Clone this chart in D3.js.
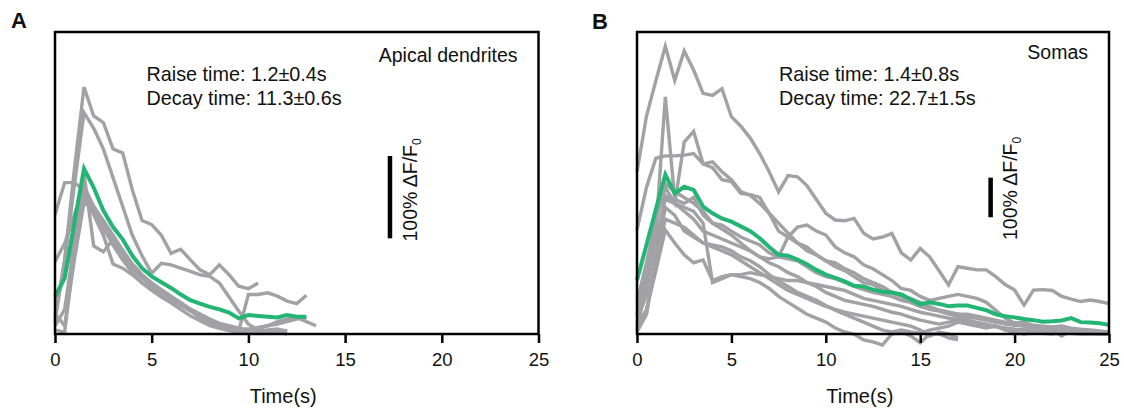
<!DOCTYPE html>
<html>
<head>
<meta charset="utf-8">
<script src="https://cdn.jsdelivr.net/npm/d3@7"></script>
<style>
  html, body { margin: 0; padding: 0; background: #fff; }
  svg { display: block; }
  text { font-family: "Liberation Sans", Arial, Helvetica, sans-serif; fill: #111; }
</style>
</head>
<body>
<svg id="chart" width="1124" height="414"></svg>
<script>
// ---------- data (ΔF/F0, sampled every 0.5 s from t = 0) ----------
const SAMPLE_INTERVAL = 0.5;
const xTicks = [0, 5, 10, 15, 20, 25];
const xLabel = "Time(s)";
const scaleBarLabel = "100% ΔF/F";
const scaleBarSub = "0";

// Panel A: apical dendrites
const panelATitle = "Apical dendrites";
const panelAStats = ["Raise time: 1.2±0.4s", "Decay time: 11.3±0.6s"];
const dendriteTrace1 = [0.2,0.9,2.0,3.0,2.65,2.57,2.25,2.2,1.75,1.38,1.33,1.2,0.98,1.03,0.9,0.78,0.72,0.84,0.72,0.58,0.55,0.62];
const dendriteTrace2 = [0.15,0.9,1.8,2.69,2.5,2.25,1.9,1.55,1.2,0.95,0.74,0.86,0.84,0.8,0.76,0.72,0.7,0.62,0.45,0.28,0.12,0.05,0.02,0.03,0.0];
const dendriteTrace3 = [1.45,1.84,1.84,1.75,1.5,1.28,1.1,0.95,0.8,0.7,0.6,0.52,0.44,0.36,0.3,0.24,0.18,0.12,0.08,0.04,0.48,0.48,0.5,0.46,0.4,0.37,0.47];
const dendriteTrace4 = [0.05,0.02,1.0,1.95,1.07,1.0,1.15,0.95,0.8,0.68,0.58,0.5,0.42,0.35,0.28,0.2,0.14,0.1,0.06,0.03,0.02,0.03,0.05,0.06,0.03];
const dendriteTrace5 = [0.88,1.1,1.45,1.8,1.55,1.35,1.15,0.98,0.85,0.72,0.62,0.53,0.45,0.38,0.3,0.24,0.18,0.13,0.1,0.07,0.05,0.07,0.1,0.15,0.18,0.2,0.15,0.1];
const dendriteTrace6 = [0.25,0.1,0.9,1.6,1.5,1.3,1.08,0.9,0.75,0.62,0.53,0.45,0.38,0.3,0.22,0.16,0.1,0.07,0.04,0.02,0.02,0.01,0.03,0.05,0.04];
const dendriteTrace7 = [0.4,0.7,1.2,1.65,1.45,1.2,0.85,0.8,0.72,0.62,0.55,0.48,0.42,0.36,0.3,0.22,0.16,0.1,0.07,0.05,0.06,0.08,0.1,0.12,0.15,0.18,0.2];
const dendriteTrace8 = [0.1,0.3,1.1,1.7,1.55,1.38,1.2,1.02,0.85,0.72,0.62,0.54,0.46,0.38,0.3,0.24,0.17,0.12,0.08,0.05,0.03,0.02,0.01,0.02,0.03];
const dendriteMean   = [0.455,0.68,1.35,2.01,1.78,1.5,1.3,1.15,0.95,0.8,0.7,0.63,0.56,0.48,0.41,0.37,0.33,0.3,0.26,0.19,0.23,0.22,0.21,0.2,0.23,0.21,0.21];

// Panel B: somas
const panelBTitle = "Somas";
const panelBStats = ["Raise time: 1.4±0.8s", "Decay time: 22.7±1.5s"];
const somaTrace1 = [4.1,5.5,6.4,7.27,6.41,7.15,6.67,6.08,6.03,6.2,5.49,5.25,4.95,4.56,4.1,3.59,4.0,3.97,3.75,3.4,3.05,2.88,2.86,2.92,2.55,2.4,2.45,2.54,2.05,1.87,2.16,1.95,1.6,1.24,1.7,1.66,1.62,1.62,1.45,1.25,1.11,0.73,1.11,1.12,1.1,0.95,0.88,0.82,0.86,0.82,0.77];
const somaTrace2 = [0.3,1.0,2.6,5.99,3.4,3.3,3.45,3.0,2.8,2.75,2.6,2.45,2.35,2.25,2.05,1.95,1.9,1.85,1.7,1.55,1.45,1.4,1.3,1.2,1.12,1.05,1.0,0.95,0.85,0.8,0.7,0.62,0.58,0.5,0.45,0.42,0.4,0.35,0.3,0.28,0.25,0.2,0.18,0.15,0.12,0.1,0.12,0.1,0.08,0.06,0.05];
const somaTrace3 = [0.8,1.8,2.9,3.7,3.3,4.85,5.12,4.3,4.35,4.1,3.9,3.6,3.5,3.3,3.05,2.8,2.55,2.3,2.2,2.0,1.85,1.7,1.6,1.45,1.3,1.25,1.1,1.05,0.95,0.8,0.7,0.65,0.6,0.55,0.5,0.45,0.4,0.35,0.3,0.25,0.22,0.2,0.18,0.15,0.12,0.1,0.1,0.08,0.06,0.04,0.03];
const somaTrace4 = [2.63,3.7,4.44,4.5,4.5,4.52,4.56,4.3,4.2,3.9,3.85,3.55,3.52,3.45,3.05,2.6,2.45,2.3,2.1,2.0,1.85,1.8,1.65,1.55,1.4,1.3,1.2,1.05,0.95,0.9,0.8,0.7,0.6,0.55,0.5,0.5,0.45,0.4,0.35,0.3,0.28,0.25,0.2,0.18,0.15,0.12,0.1,0.1,0.08,0.06,0.05];
const somaTrace5 = [0.1,0.5,2.0,3.5,3.3,3.1,2.9,2.6,2.5,2.4,2.3,2.2,2.1,1.95,1.9,1.95,2.45,2.7,2.75,2.6,2.5,2.2,2.05,1.95,1.75,1.65,1.5,1.35,1.15,1.1,0.95,0.85,0.9,0.95,1.0,0.95,0.9,0.8,0.6,0.4,0.28,0.3,0.22,0.2,0.18,0.2,0.15,0.12,0.1,0.08,0.05];
const somaTrace6 = [0.5,1.5,2.8,3.8,3.6,3.45,3.3,3.1,2.8,2.65,2.5,2.3,2.1,1.95,1.8,1.7,1.55,1.45,1.3,1.2,1.05,0.95,0.85,0.8,0.75,0.7,0.62,0.55,0.5,0.42,0.35,0.3,0.25,0.3,0.35,0.3,0.25,0.2,0.18,0.15,0.12,0.1,0.12,0.1,0.08,-0.05,0.1,0.05,0.02,0.0,0.0];
const somaTrace7 = [0.2,1.2,2.4,3.4,3.3,3.2,3.1,2.8,1.3,1.4,1.5,1.5,1.55,1.5,1.45,1.4,1.35,1.35,1.3,1.25,1.2,1.15,1.1,1.0,0.9,0.85,0.8,0.75,0.7,0.62,0.55,0.5,0.45,0.4,0.38,0.35,0.3,0.25,0.2,0.15,0.12,0.1,0.08,0.05,0.05,0.03,0.02,0.0,0.0,0.02,0.0];
const somaTrace8 = [0.1,0.6,1.8,2.9,2.8,2.7,2.5,2.3,2.2,2.1,2.0,1.85,1.7,1.55,1.4,1.25,1.1,1.0,0.9,0.8,0.7,0.62,0.55,0.5,0.45,0.4,0.35,0.3,0.25,0.2,0.1,-0.05,0.05,0.0,-0.1];
const somaTrace9 = [0.27,0.6,1.6,2.63,2.3,2.0,1.8,1.87,1.35,1.45,1.5,1.45,1.4,1.3,1.15,0.95,0.8,0.65,0.5,0.4,0.3,0.15,0.05,0.0,-0.15,-0.2,-0.28,0.0,0.05,-0.05,-0.22,0.0,0.0,-0.1,-0.15];
const somaTrace10 = [0.05,0.5,1.9,3.2,3.0,2.6,2.45,2.3,2.25,2.2,2.1,1.95,1.85,1.7,1.5,1.35,1.2,1.05,0.95,0.85,0.72,0.6,0.5,0.4,0.3,0.2,0.1,0.05,0.1,0.05,0.02,0.1,0.15,0.2,0.3,0.25,0.2,0.15,0.2,0.1,0.05,0.0,0.05,0.02,0.0,0.05,0.1,0.05,0.02,0.0,0.0];
const somaMean = [1.36,2.25,3.15,4.03,3.55,3.72,3.64,3.22,3.05,2.92,2.84,2.72,2.6,2.42,2.2,2.0,1.98,1.88,1.76,1.62,1.5,1.42,1.33,1.22,1.2,1.12,1.07,1.05,1.0,0.87,0.75,0.8,0.76,0.7,0.72,0.72,0.66,0.6,0.5,0.45,0.42,0.38,0.35,0.31,0.32,0.34,0.4,0.3,0.29,0.27,0.23];

// ---------- layout ----------
const GRAY = "#a2a2a6", GREEN = "#22b573";
const panels = [
  { letter: "A", title: panelATitle, stats: panelAStats,
    traces: [dendriteTrace1, dendriteTrace2, dendriteTrace3, dendriteTrace4, dendriteTrace5, dendriteTrace6, dendriteTrace7, dendriteTrace8],
    mean: dendriteMean, yMax: 3.67, x0: 55, x1: 538.5,
    letterPos: [11, 28], titleY: 62, statsX: 146.5,
    bar: { t: 17.32, v: 1.163 }, barTextX: 417, barTextY: 241.5 },
  { letter: "B", title: panelBTitle, stats: panelBStats,
    traces: [somaTrace1, somaTrace2, somaTrace3, somaTrace4, somaTrace5, somaTrace6, somaTrace7, somaTrace8, somaTrace9, somaTrace10],
    mean: somaMean, yMax: 7.63, x0: 637, x1: 1109,
    letterPos: [592, 29], titleY: 58.5, statsX: 779,
    bar: { t: 18.73, v: 2.95 }, barTextX: 1017, barTextY: 240 }
];
const yTop = 32, yBottom = 334;

const svg = d3.select("#chart");

panels.forEach(p => {
  const x = d3.scaleLinear().domain([0, 25]).range([p.x0, p.x1]);
  const y = d3.scaleLinear().domain([0, p.yMax]).range([yBottom, yTop]);
  const g = svg.append("g");
  const line = d3.line().x((d, i) => x(i * SAMPLE_INTERVAL)).y(d => y(d));

  // gray individual traces
  g.selectAll("path.trace").data(p.traces).join("path")
    .attr("class", "trace")
    .attr("d", line)
    .attr("fill", "none")
    .attr("stroke", GRAY)
    .attr("stroke-width", 3.4);

  // mean trace
  g.append("path")
    .datum(p.mean)
    .attr("d", line)
    .attr("fill", "none")
    .attr("stroke", GREEN)
    .attr("stroke-width", 4);

  // frame
  g.append("rect")
    .attr("x", x(0)).attr("y", y(p.yMax))
    .attr("width", x(25) - x(0)).attr("height", y(0) - y(p.yMax))
    .attr("fill", "none").attr("stroke", "#000").attr("stroke-width", 2.5);

  // x axis
  const ax = g.append("g")
    .attr("transform", `translate(0,${y(0)})`)
    .call(d3.axisBottom(x).tickValues(xTicks).tickSize(9).tickPadding(10).tickFormat(d3.format("d")));
  ax.select(".domain").remove();
  ax.selectAll(".tick line").attr("stroke", "#000").attr("stroke-width", 2.5);
  ax.selectAll(".tick text").attr("font-size", 18.5).attr("fill", "#111")
    .style("font-family", '"Liberation Sans", Arial, sans-serif');

  // axis label
  g.append("text")
    .attr("x", x(11.8)).attr("y", 403)
    .attr("text-anchor", "middle").attr("font-size", 20)
    .text(xLabel);

  // panel letter
  g.append("text")
    .attr("x", p.letterPos[0]).attr("y", p.letterPos[1])
    .attr("font-size", 22).attr("font-weight", "bold")
    .text(p.letter);

  // title (top-right)
  g.append("text")
    .attr("x", x(25) - 21).attr("y", p.titleY)
    .attr("text-anchor", "end").attr("font-size", 19.5)
    .text(p.title);

  // stats
  p.stats.forEach((s, i) => {
    g.append("text")
      .attr("x", p.statsX).attr("y", 80.5 + i * 24)
      .attr("font-size", 19.8)
      .text(s);
  });

  // scale bar
  g.append("line")
    .attr("x1", x(p.bar.t)).attr("x2", x(p.bar.t))
    .attr("y1", y(p.bar.v)).attr("y2", y(p.bar.v + 1))
    .attr("stroke", "#000").attr("stroke-width", 4.5);
  const st = g.append("text")
    .attr("transform", `translate(${p.barTextX},${p.barTextY}) rotate(-90)`)
    .attr("font-size", 19.5);
  st.append("tspan").text(scaleBarLabel);
  st.append("tspan").attr("font-size", 12).attr("dy", 4).text(scaleBarSub);
});
</script>
</body>
</html>
